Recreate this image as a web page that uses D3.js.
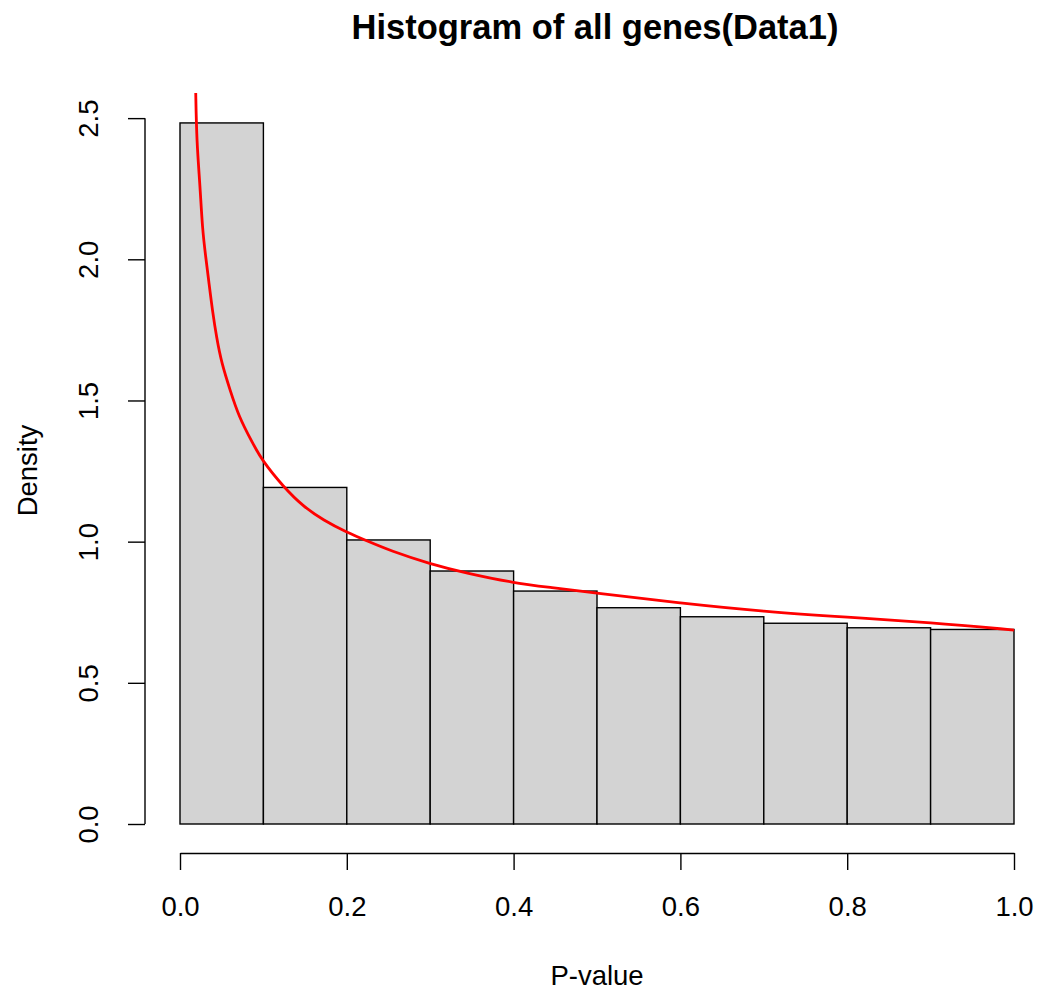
<!DOCTYPE html>
<html>
<head>
<meta charset="utf-8">
<script src="https://cdn.jsdelivr.net/npm/d3@7"></script>
<style>
  html, body { margin: 0; padding: 0; background: #fff; }
  svg { display: block; font-family: "Liberation Sans", Arial, sans-serif; }
</style>
</head>
<body>
<svg id="chart" width="1039" height="991"></svg>
<script>
// Histogram bins (P-value breaks) and density per bin
const binEdges = [0.0, 0.1, 0.2, 0.3, 0.4, 0.5, 0.6, 0.7, 0.8, 0.9, 1.0];
const binDensity = [2.483, 1.192, 1.006, 0.896, 0.825, 0.766, 0.734, 0.711, 0.695, 0.689];

// Fitted density curve (red)
const curveP = [0.0188, 0.0200, 0.0240, 0.0268, 0.0308, 0.0348, 0.0388, 0.0440, 0.0500, 0.0600,
                0.0707, 0.0860, 0.0980, 0.1240, 0.1480, 0.1720, 0.2000, 0.2240, 0.2520, 0.3000,
                0.3440, 0.4000, 0.4440, 0.5000, 0.6000, 0.7000, 0.8000, 0.9000, 1.0000];
const curveD = [2.600, 2.416, 2.263, 2.109, 2.009, 1.915, 1.820, 1.720, 1.631, 1.537,
                1.442, 1.355, 1.289, 1.194, 1.124, 1.076, 1.033, 1.003, 0.968, 0.921,
                0.888, 0.854, 0.838, 0.817, 0.782, 0.752, 0.732, 0.714, 0.687];

// Axis ticks
const xTicks = [0.0, 0.2, 0.4, 0.6, 0.8, 1.0];
const yTicks = [0.0, 0.5, 1.0, 1.5, 2.0, 2.5];

const titleText = "Histogram of all genes(Data1)";
const xLabel = "P-value";
const yLabel = "Density";

const svg = d3.select("#chart");

const plot = { left: 180, right: 1014, top: 93, bottom: 824 };

const x = d3.scaleLinear().domain([0, 1]).range([plot.left, plot.right]);
const y = d3.scaleLinear().domain([0, 2.589]).range([plot.bottom, plot.top]);

svg.append("defs").append("clipPath").attr("id", "plotClip")
  .append("rect")
  .attr("x", plot.left - 20).attr("y", plot.top)
  .attr("width", plot.right - plot.left + 40)
  .attr("height", plot.bottom - plot.top + 20);

// Bars
const bins = binDensity.map((d, i) => ({ x0: binEdges[i], x1: binEdges[i + 1], d }));
svg.append("g")
  .selectAll("rect")
  .data(bins)
  .join("rect")
  .attr("x", b => x(b.x0))
  .attr("y", b => y(b.d))
  .attr("width", b => x(b.x1) - x(b.x0))
  .attr("height", b => y(0) - y(b.d))
  .attr("fill", "#d3d3d3")
  .attr("stroke", "#000")
  .attr("stroke-width", 1.4);

// Density curve
const line = d3.line()
  .x((p, i) => x(p))
  .y((p, i) => y(curveD[i]))
  .curve(d3.curveBasis);

svg.append("path")
  .attr("clip-path", "url(#plotClip)")
  .attr("d", line(curveP))
  .attr("fill", "none")
  .attr("stroke", "#ff0000")
  .attr("stroke-width", 2.8);

// X axis
const xAxis = svg.append("g")
  .attr("transform", "translate(0,853)")
  .call(d3.axisBottom(x).tickValues(xTicks).tickSize(17).tickSizeOuter(0).tickPadding(0)
    .tickFormat(d3.format(".1f")));
xAxis.select(".domain").attr("stroke", "#000").attr("stroke-width", 1.4);
xAxis.selectAll(".tick line").attr("stroke", "#000").attr("stroke-width", 1.4);
xAxis.selectAll(".tick text")
  .attr("y", 63).attr("dy", null)
  .attr("font-size", 27.5)
  .attr("fill", "#000")
  .attr("font-family", "Liberation Sans, Arial, sans-serif");

// Y axis
const yAxis = svg.append("g")
  .attr("transform", "translate(145,0)")
  .call(d3.axisLeft(y).tickValues(yTicks).tickSize(17).tickSizeOuter(0)
    .tickFormat(d3.format(".1f")));
yAxis.select(".domain")
  .attr("d", `M0,${y(yTicks[0])}V${y(yTicks[yTicks.length - 1])}`)
  .attr("stroke", "#000").attr("stroke-width", 1.4);
yAxis.selectAll(".tick line").attr("stroke", "#000").attr("stroke-width", 1.4);
yAxis.selectAll(".tick text")
  .attr("x", null).attr("dy", null)
  .attr("transform", "translate(-47,0) rotate(-90)")
  .attr("text-anchor", "middle")
  .attr("y", 0)
  .attr("font-size", 27.5)
  .attr("fill", "#000")
  .attr("font-family", "Liberation Sans, Arial, sans-serif");

// Title and axis labels
svg.append("text")
  .attr("x", 595).attr("y", 39)
  .attr("text-anchor", "middle")
  .attr("font-size", 34.5)
  .attr("font-weight", "bold")
  .text(titleText);

svg.append("text")
  .attr("x", 597).attr("y", 985)
  .attr("text-anchor", "middle")
  .attr("font-size", 27.5)
  .text(xLabel);

svg.append("text")
  .attr("transform", `translate(37,${(plot.top + plot.bottom) / 2 + 12}) rotate(-90)`)
  .attr("text-anchor", "middle")
  .attr("font-size", 27.5)
  .text(yLabel);
</script>
</body>
</html>
